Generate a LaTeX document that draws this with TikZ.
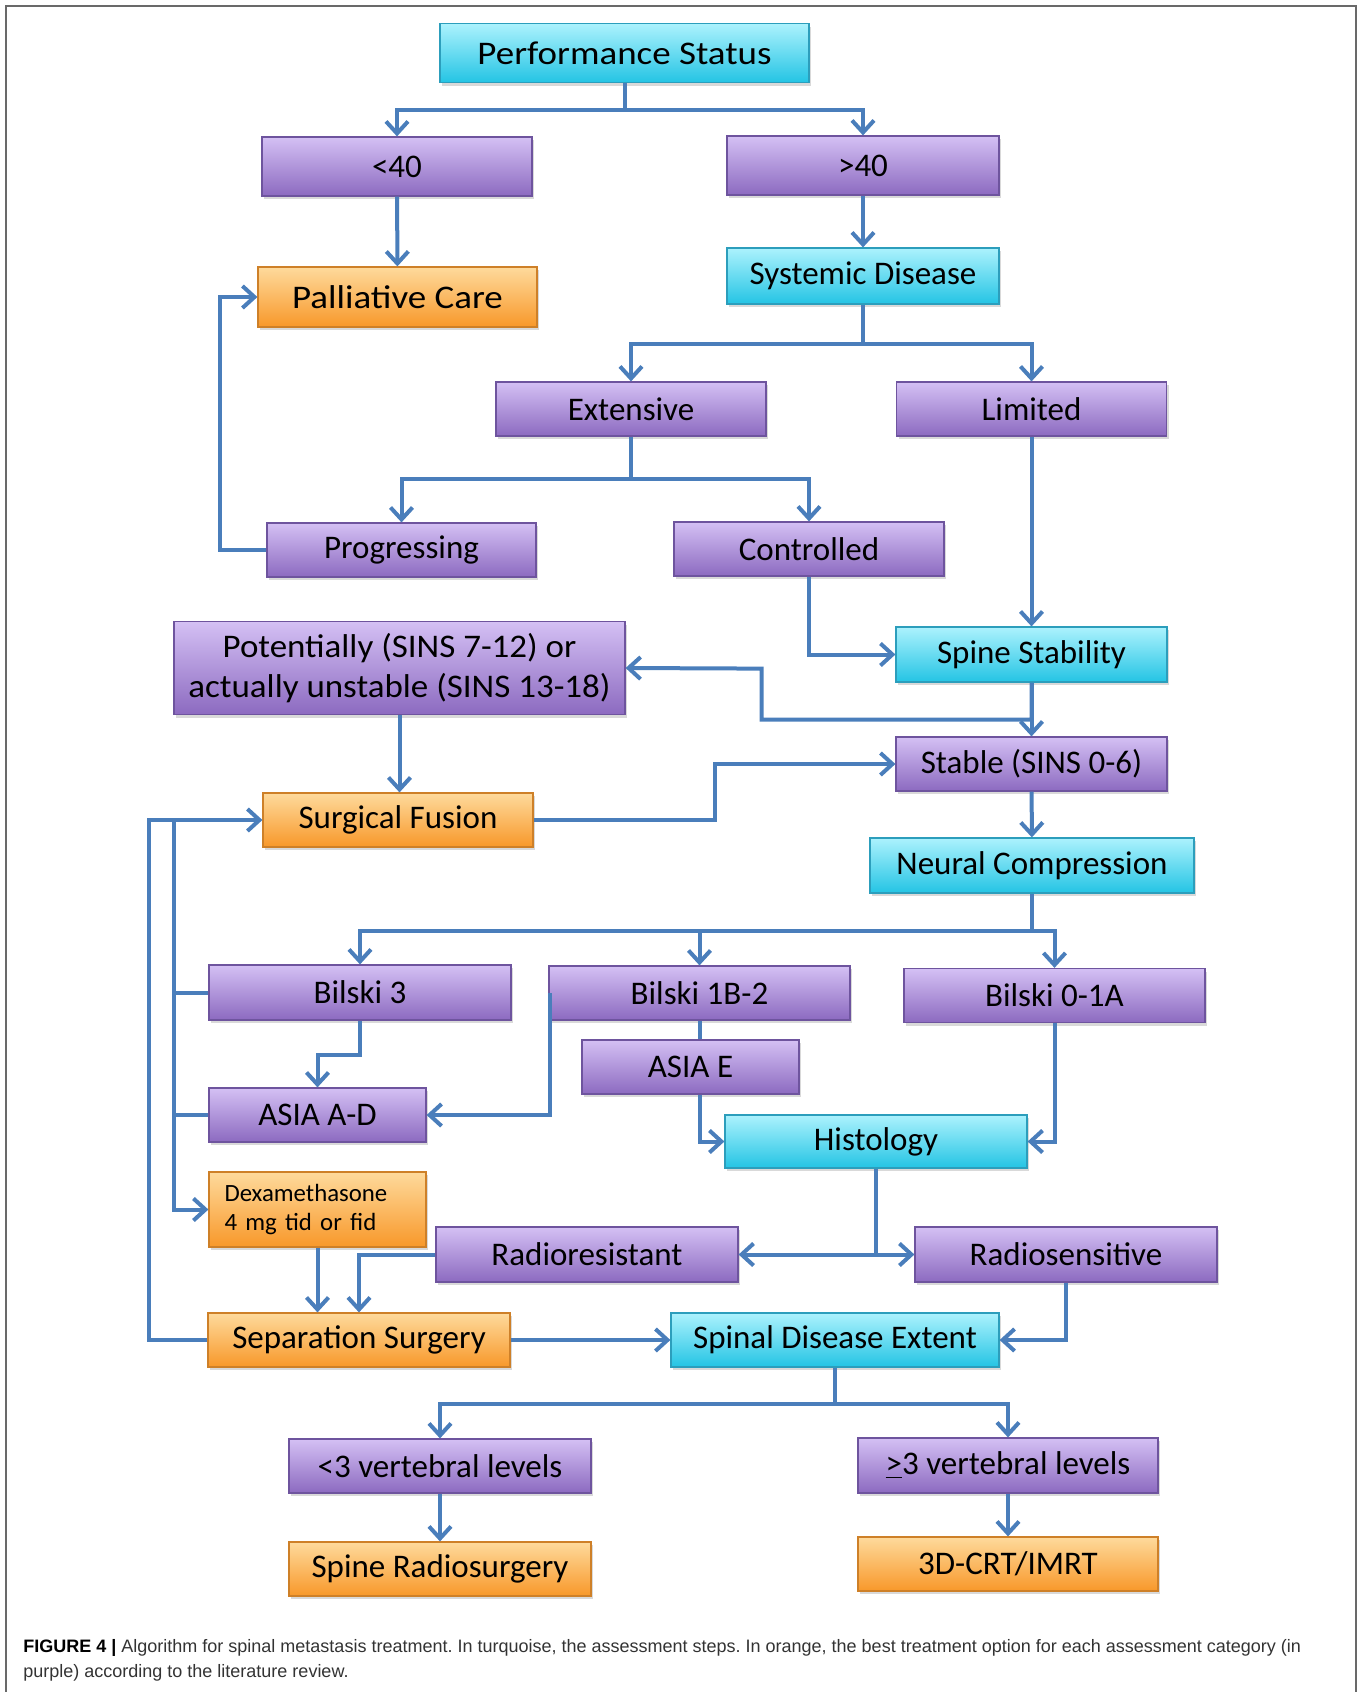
\documentclass[tikz,border=0pt]{standalone}
\usepackage{fontspec}
\setmainfont{Carlito}
\newfontfamily\widefont[FakeStretch=1.12]{Carlito}
\newfontfamily\semiwide[FakeStretch=1.06]{Carlito}
\newfontfamily\capfont{Liberation Sans}
\usetikzlibrary{arrows.meta,shadows,calc}

\definecolor{lineblue}{RGB}{74,126,187}
\definecolor{purT}{RGB}{212,192,244}
\definecolor{purB}{RGB}{140,106,192}
\definecolor{purD}{RGB}{110,84,158}
\definecolor{cyT}{RGB}{172,242,253}
\definecolor{cyB}{RGB}{36,196,228}
\definecolor{cyD}{RGB}{44,158,188}
\definecolor{orT}{RGB}{254,218,156}
\definecolor{orB}{RGB}{248,152,42}
\definecolor{orD}{RGB}{206,128,40}
\definecolor{framegray}{RGB}{105,105,105}

\begin{document}
\begin{tikzpicture}[x=0.5pt,y=-0.5pt,
  base/.style={rectangle, inner sep=0pt, font=\fontsize{16.5}{19.5}\selectfont,
    text=black, line width=0.6pt, align=center,
    drop shadow={shadow xshift=1pt,shadow yshift=-1.5pt,opacity=0.3}},
  wh/.style 2 args={minimum width=#1*0.5pt, minimum height=#2*0.5pt},
  pur/.style={base, draw=purD, top color=purT, bottom color=purB},
  cya/.style={base, draw=cyD, top color=cyT, bottom color=cyB},
  ora/.style={base, draw=orD, top color=orT, bottom color=orB},
  conn/.style={draw=lineblue, line width=2pt},
  arr/.style={conn, -{Straight Barb[length=6pt,width=11pt,line width=2pt]}}
]
\useasboundingbox (0,0) rectangle (1363,1692);
\draw[framegray, line width=1pt] (6,1692) -- (6,6) -- (1356,6) -- (1356,1692);

% nodes
\node[cya, wh={369}{59}, font=\widefont\fontsize{16.5}{19.5}\selectfont] (ps) at (624.5,53) {Performance Status};
\node[pur, wh={270}{59}] (lt40) at (397,166.5) {<40};
\node[pur, wh={272}{59}] (gt40) at (863,165.5) {>40};
\node[ora, wh={279}{60}, font=\widefont\fontsize{16.5}{19.5}\selectfont] (pall) at (397.5,297) {Palliative Care};
\node[cya, wh={272}{56}] (sys) at (863,276) {Systemic Disease};
\node[pur, wh={270}{54}] (ext) at (631,409) {Extensive};
\node[pur, wh={270}{54}] (lim) at (1031.5,409) {Limited};
\node[pur, wh={269}{54}] (prog) at (401.5,550) {Progressing};
\node[pur, wh={270}{54}] (ctrl) at (809,549) {Controlled};
\node[cya, wh={271}{55}] (spine) at (1031.5,654.5) {Spine Stability};
\node[pur, wh={451}{93}, font=\semiwide\fontsize{16.5}{20}\selectfont] (pot) at (399.5,668) {Potentially (SINS 7-12) or\\actually unstable (SINS 13-18)};
\node[pur, wh={271}{54}] (stable) at (1031.5,764) {Stable (SINS 0-6)};
\node[ora, wh={270}{54}] (sf) at (398,820) {Surgical Fusion};
\node[cya, wh={324}{55}] (neural) at (1032,865.5) {Neural Compression};
\node[pur, wh={302}{55}] (b3) at (360,992.5) {Bilski 3};
\node[pur, wh={301}{54}] (b1b) at (699.5,993) {Bilski 1B-2};
\node[pur, wh={301}{54}] (b01) at (1054.5,995.5) {Bilski 0-1A};
\node[pur, wh={217}{54}] (asiaad) at (317.5,1115) {ASIA A-D};
\node[pur, wh={217}{54}] (asiae) at (690.5,1067) {ASIA E};
\node[cya, wh={302}{53}] (hist) at (876,1141.5) {Histology};
\node[ora, wh={217}{75}, align=left, text width=93pt, font=\fontsize{12.4}{14.8}\selectfont] (dexa) at (317.5,1209.5) {Dexamethasone\\4 mg tid or fid};
\node[pur, wh={302}{55}] (rr) at (587,1254.5) {Radioresistant};
\node[pur, wh={302}{55}] (rs) at (1066,1254.5) {Radiosensitive};
\node[ora, wh={302}{54}] (sep) at (359,1340) {Separation Surgery};
\node[cya, wh={328}{54}] (sde) at (835,1340) {Spinal Disease Extent};
\node[pur, wh={302}{54}] (lt3) at (440,1466) {<3 vertebral levels};
\node[pur, wh={300}{55}] (ge3) at (1008,1465.5) {\underline{>}3 vertebral levels};
\node[ora, wh={302}{54}] (srs) at (440,1569) {Spine Radiosurgery};
\node[ora, wh={300}{54}] (crt) at (1008,1564) {3D-CRT/IMRT};

% connectors
\draw[arr] (ps.south) -- ++(0,27) -| (lt40);
\draw[arr] (ps.south) -- ++(0,27) -| (gt40);
\draw[arr] (lt40) -- (pall);
\draw[arr] (gt40) -- (sys);
\draw[arr] (sys.south) -- ++(0,39) -| (ext);
\draw[arr] (sys.south) -- ++(0,39) -| (lim);
\draw[arr] (ext.south) -- ++(0,42) -| (prog);
\draw[arr] (ext.south) -- ++(0,42) -| (ctrl);
\draw[arr] (prog.west) -- ++(-46,0) |- (pall.west);
\draw[arr] (lim) -- (spine);
\draw[arr] (ctrl.south) |- (spine.west);
\draw[arr] (spine) -- (stable);
\draw[arr] (spine.south) -- ++(0,37) -| ++(-270,-51) -- (pot.east);
\draw[arr] (pot.south) -- (pot.south |- sf.north);
\draw[arr] (sf.east) -- ++(181,0) |- (stable.west);
\draw[arr] (stable) -- (neural);
\draw[arr] (neural.south) -- ++(0,37) -| (b3);
\draw[arr] (neural.south) -- ++(0,37) -| (b1b);
\draw[arr] (neural.south) -- ++(0,37) -| (b01);
\draw[arr] (b3.south) -- ++(0,34) -| (asiaad);
\draw[arr] ([xshift=1pt]b1b.west) |- (asiaad.east);
\draw[conn] (b1b.south) -- (b1b.south |- asiae.north);
\draw[arr] (asiae.south -| b1b.south) |- (hist.west);
\draw[arr] (b01.south) |- (hist.east);
\draw[arr] (hist.south) |- (rr.east);
\draw[arr] (hist.south) |- (rs.west);
\draw[arr] (dexa.south) -- (dexa.south |- sep.north);
\draw[arr] (rr.west) -| (sep.north);
\draw[arr] (sep) -- (sde);
\draw[arr] (rs.south) |- (sde.east);
\draw[arr] (sde.south) -- ++(0,36) -| (lt3);
\draw[arr] (sde.south) -- ++(0,36) -| (ge3);
\draw[arr] (lt3) -- (srs);
\draw[arr] (ge3) -- (crt);
\draw[arr] (sep.west) -- ++(-58,0) |- (sf.west);
\coordinate (jl) at ($(sf.west)+(-88,0)$);
\draw[arr] (jl) |- (dexa.west);
\draw[conn] (b3.west) -- (b3.west -| jl);
\draw[conn] (asiaad.west) -- (asiaad.west -| jl);

% caption
\node[anchor=base west, inner sep=0pt, align=left, text=black!80,
  font=\capfont\frenchspacing\fontsize{9}{12.3}\selectfont] (cap) at (23,1677)
  {\textcolor{black}{\textbf{FIGURE 4 |}} Algorithm for spinal metastasis treatment. In turquoise, the assessment steps. In orange, the best treatment option for each assessment category (in\\purple) according to the literature review.};
\end{tikzpicture}
\end{document}
